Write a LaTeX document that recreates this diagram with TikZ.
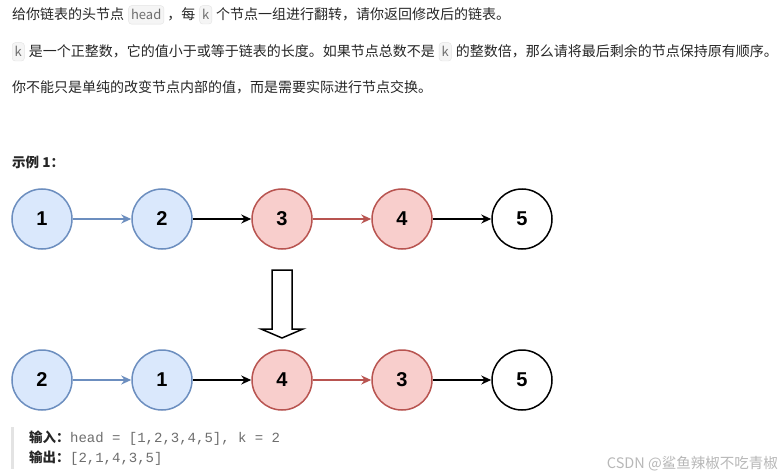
\documentclass[tikz,border=0pt]{standalone}
\usepackage{fontspec}
\setmainfont{Noto Sans CJK SC}
\newfontfamily\numfont{Liberation Sans}
\newfontfamily\codefont{Liberation Mono}
\usetikzlibrary{arrows.meta,positioning}
\definecolor{bluefill}{HTML}{DAE8FC}
\definecolor{bluedraw}{HTML}{6C8EBF}
\definecolor{redfill}{HTML}{F8CECC}
\definecolor{reddraw}{HTML}{B85450}
\definecolor{txt}{HTML}{262626}
\definecolor{codegray}{HTML}{6E6E6E}
\definecolor{codebg}{HTML}{F5F5F5}
\definecolor{codeline}{HTML}{E3E3E3}
\tikzset{
  lnode/.style={circle,minimum size=60pt,inner sep=0pt,line width=1.5pt,font=\numfont\bfseries\fontsize{20}{22}\selectfont},
  bnode/.style={lnode,draw=bluedraw,fill=bluefill},
  rnode/.style={lnode,draw=reddraw,fill=redfill},
  wnode/.style={lnode,draw=black,fill=white},
  link/.style={line width=1.5pt,-{Stealth[length=10pt,width=9pt]}},
  para/.style={inner sep=0pt,anchor=base west,text=txt,font=\fontsize{14}{16}\selectfont},
  code/.style={draw=codeline,fill=codebg,rounded corners=3pt,inner xsep=2.5pt,inner ysep=4pt,text=codegray,font=\fontsize{13}{15}\selectfont,anchor=base west},
  outtxt/.style={inner sep=0pt,anchor=base west,text=codegray,font=\codefont\fontsize{14}{16}\selectfont},
}
\begin{document}
\begin{tikzpicture}[x=1pt,y=-1pt]
\fill[white] (0,0) rectangle (784,476);
\useasboundingbox (0,0) rectangle (784,476);
% paragraph 1
\node[para] (p1a) at (12,20) {给你链表的头节点};
\node[code] (c1) at ([xshift=4pt]p1a.base east) {head};
\node[para] (p1b) at ([xshift=3pt]c1.base east) {，每};
\node[code] (c2) at ([xshift=4pt]p1b.base east) {k};
\node[para] (p1c) at ([xshift=4pt]c2.base east) {个节点一组进行翻转，请你返回修改后的链表。};
% paragraph 2
\node[code] (c3) at (12,57) {k};
\node[para] (p2a) at ([xshift=4pt]c3.base east) {是一个正整数，它的值小于或等于链表的长度。如果节点总数不是};
\node[code] (c4) at ([xshift=4pt]p2a.base east) {k};
\node[para] (p2b) at ([xshift=4pt]c4.base east) {的整数倍，那么请将最后剩余的节点保持原有顺序。};
% paragraph 3
\node[para] (p3) at (12,93) {你不能只是单纯的改变节点内部的值，而是需要实际进行节点交换。};
% example title
\node[para,font=\bfseries\fontsize{13.5}{15}\selectfont] (ex) at (12,167) {示例 1：};
% row 1
\node[bnode] (a1) at (42,219) {1};
\node[bnode] (a2) at (162,219) {2};
\node[rnode] (a3) at (282,219) {3};
\node[rnode] (a4) at (402,219) {4};
\node[wnode] (a5) at (522,219) {5};
\draw[link,draw=bluedraw,fill=bluedraw] (a1) -- (a2);
\draw[link] (a2) -- (a3);
\draw[link,draw=reddraw,fill=reddraw] (a3) -- (a4);
\draw[link] (a4) -- (a5);
% block arrow
\draw[line width=1.5pt,fill=white,line join=miter] (272,270) -- (292,270) -- (292,329) -- (303,329) -- (282,338) -- (261,329) -- (272,329) -- cycle;
% row 2
\node[bnode] (b1) at (42,380) {2};
\node[bnode] (b2) at (162,380) {1};
\node[rnode] (b3) at (282,380) {4};
\node[rnode] (b4) at (402,380) {3};
\node[wnode] (b5) at (522,380) {5};
\draw[link,draw=bluedraw,fill=bluedraw] (b1) -- (b2);
\draw[link] (b2) -- (b3);
\draw[link,draw=reddraw,fill=reddraw] (b3) -- (b4);
\draw[link] (b4) -- (b5);
% output block
\fill[codeline] (11,427) rectangle (13.5,469);
\node[para,font=\bfseries\fontsize{13.5}{15}\selectfont] (in) at (29,442) {输入：};
\node[outtxt] (inv) at (in.base east) {head = [1,2,3,4,5], k = 2};
\node[para,font=\bfseries\fontsize{13.5}{15}\selectfont] (ou) at (29,462) {输出：};
\node[outtxt] (ouv) at (ou.base east) {[2,1,4,3,5]};
% watermark
\node[inner sep=0pt,anchor=base east,text=black!28,font=\fontsize{14.5}{16}\selectfont] (wm) at (778,468) {CSDN @鲨鱼辣椒不吃青椒};
\end{tikzpicture}
\end{document}
